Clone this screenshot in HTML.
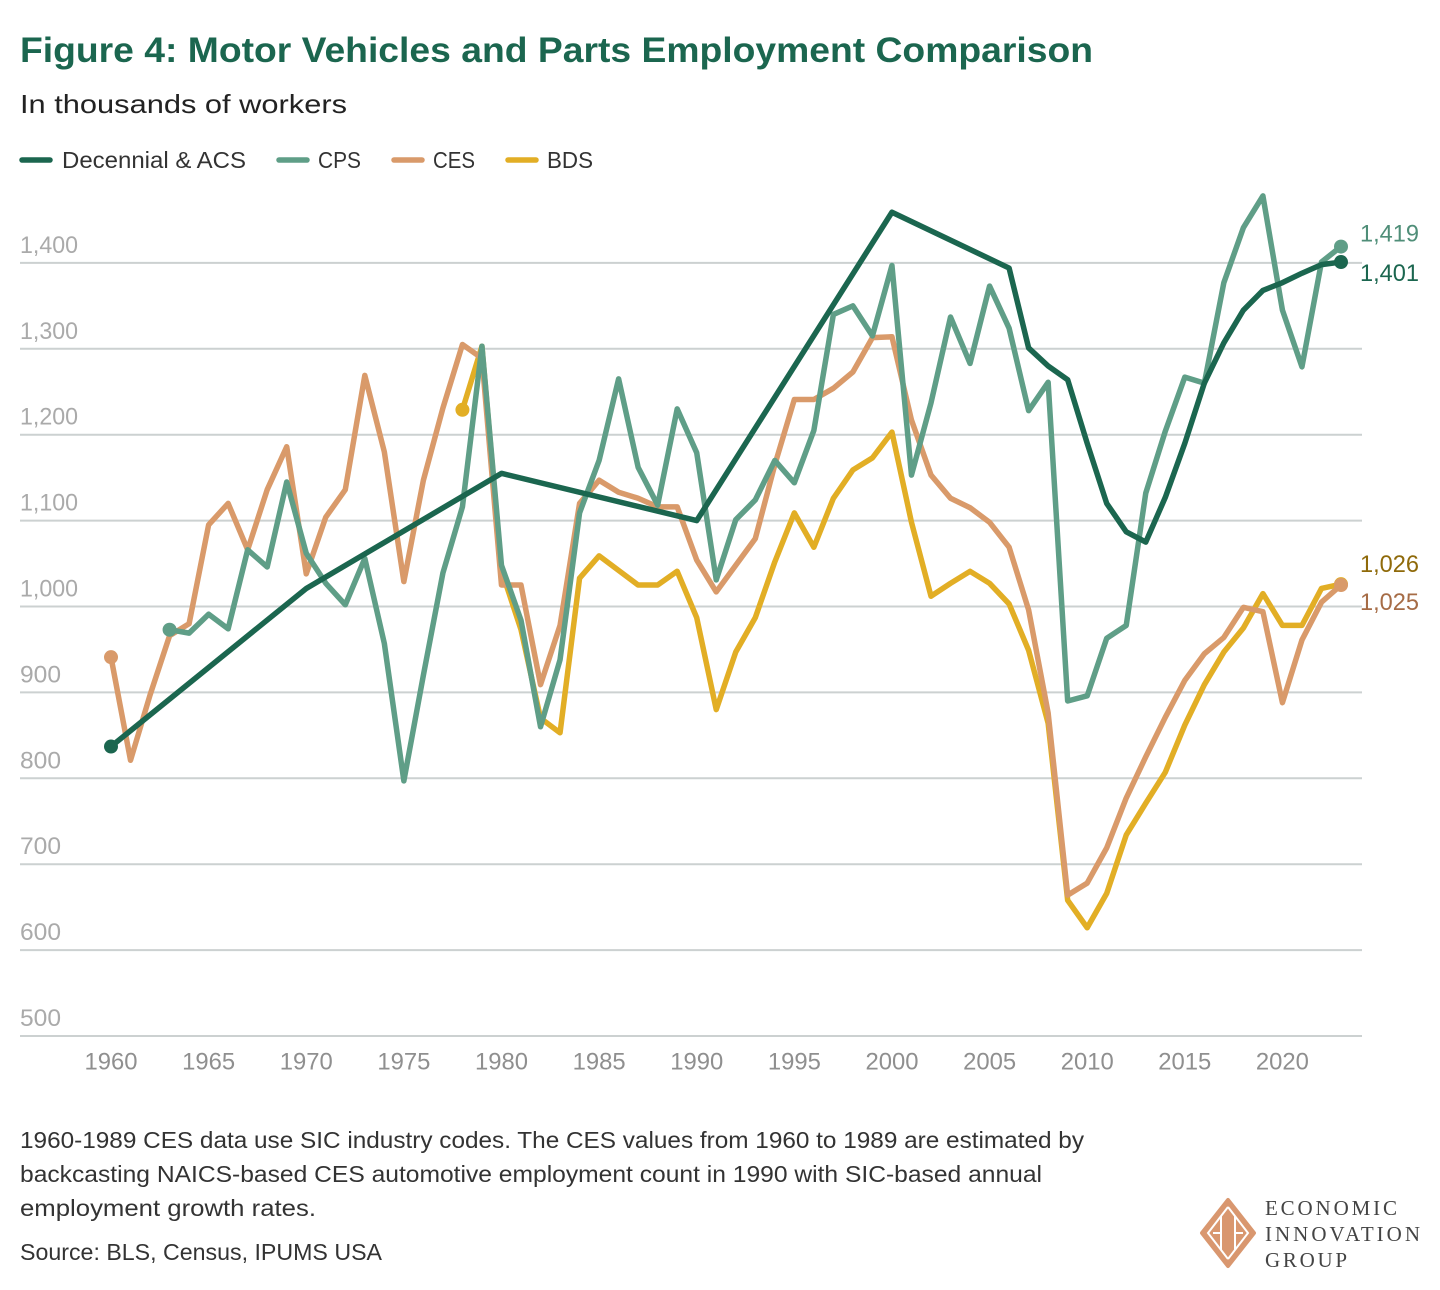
<!DOCTYPE html>
<html lang="en">
<head>
<meta charset="utf-8">
<title>Motor Vehicles and Parts Employment Comparison</title>
<style>
html,body{margin:0;padding:0;background:#fff;}
body{width:1440px;height:1290px;overflow:hidden;}
svg{display:block;font-family:"Liberation Sans",sans-serif;}
</style>
</head>
<body>
<svg id="chart" xmlns="http://www.w3.org/2000/svg" width="1440" height="1290" viewBox="0 0 1440 1290">
  <text x="20" y="62" font-size="35" font-weight="700" fill="#1b664f" textLength="1073" lengthAdjust="spacingAndGlyphs">Figure 4: Motor Vehicles and Parts Employment Comparison</text>
  <text x="20" y="113" font-size="26" fill="#222" textLength="327" lengthAdjust="spacingAndGlyphs">In thousands of workers</text>

  <g>
    <g>
      <line x1="22" y1="160" x2="50" y2="160" stroke="#1b664f" stroke-width="5.5" stroke-linecap="round"/>
      <text x="62" y="168" font-size="23" fill="#333" textLength="184" lengthAdjust="spacingAndGlyphs">Decennial &amp; ACS</text>
    </g>
    <g>
      <line x1="279" y1="160" x2="307" y2="160" stroke="#5f9e87" stroke-width="5.5" stroke-linecap="round"/>
      <text x="318" y="168" font-size="23" fill="#333" textLength="43" lengthAdjust="spacingAndGlyphs">CPS</text>
    </g>
    <g>
      <line x1="394" y1="160" x2="422" y2="160" stroke="#d99a6a" stroke-width="5.5" stroke-linecap="round"/>
      <text x="433" y="168" font-size="23" fill="#333" textLength="42" lengthAdjust="spacingAndGlyphs">CES</text>
    </g>
    <g>
      <line x1="508" y1="160" x2="536" y2="160" stroke="#e2ae25" stroke-width="5.5" stroke-linecap="round"/>
      <text x="547" y="168" font-size="23" fill="#333" textLength="46" lengthAdjust="spacingAndGlyphs">BDS</text>
    </g>
  </g>

  <g id="grid"></g>
  <g id="ylabels"></g>
  <g id="xlabels"></g>
  <g id="series"></g>
  <g id="endlabels"></g>

  <g font-size="23" fill="#333">
    <text x="20" y="1148" textLength="1064" lengthAdjust="spacingAndGlyphs">1960-1989 CES data use SIC industry codes. The CES values from 1960 to 1989 are estimated by</text>
    <text x="20" y="1182" textLength="1022" lengthAdjust="spacingAndGlyphs">backcasting NAICS-based CES automotive employment count in 1990 with SIC-based annual</text>
    <text x="20" y="1216" textLength="296" lengthAdjust="spacingAndGlyphs">employment growth rates.</text>
    <text x="20" y="1260" textLength="362" lengthAdjust="spacingAndGlyphs">Source: BLS, Census, IPUMS USA</text>
  </g>

  <g>
    <path d="M1228 1200 L1254 1233 L1228 1266 L1202 1233 Z" fill="#d9976f" stroke="#d9976f" stroke-width="4" stroke-linejoin="round"/>
    <path d="M1228 1207 L1208 1233 L1228 1259 M1228 1207 L1248 1233 L1228 1259 M1221 1216 L1221 1250 M1235 1216 L1235 1250 M1213 1233 L1221 1233 M1235 1233 L1243 1233" fill="none" stroke="#fff" stroke-width="2"/>
    <text x="1265" y="1215" font-family="'Liberation Serif',serif" font-size="21" fill="#444" textLength="132" lengthAdjust="spacing">ECONOMIC</text>
    <text x="1265" y="1241" font-family="'Liberation Serif',serif" font-size="21" fill="#444" textLength="155" lengthAdjust="spacing">INNOVATION</text>
    <text x="1265" y="1267" font-family="'Liberation Serif',serif" font-size="21" fill="#444" textLength="82" lengthAdjust="spacing">GROUP</text>
  </g>
</svg>
<script>
const yTicks = [500,600,700,800,900,1000,1100,1200,1300,1400];
const yTickLabels = ["500","600","700","800","900","1,000","1,100","1,200","1,300","1,400"];
const xTicks = [1960,1965,1970,1975,1980,1985,1990,1995,2000,2005,2010,2015,2020];

const decennialYears = [1960,1970,1980,1990,2000,2006,2007,2008,2009,2010,2011,2012,2013,2014,2015,2016,2017,2018,2019,2020,2021,2022,2023];
const decennialValues = [837,1021,1155,1100,1459,1394,1301,1280,1264,1190,1120,1087,1075,1127,1190,1260,1307,1345,1368,1377,1388,1398,1401];

const cpsStart = 1963;
const cpsValues = [973,969,991,974,1066,1046,1145,1062,1027,1002,1056,957,797,920,1039,1116,1303,1048,984,860,938,1109,1170,1265,1162,1118,1230,1179,1031,1101,1124,1170,1144,1205,1340,1350,1315,1397,1153,1237,1337,1283,1373,1324,1228,1261,890,896,963,978,1132,1204,1267,1260,1377,1441,1478,1345,1279,1401,1419];

const cesStart = 1960;
const cesValues = [941,821,897,966,980,1095,1120,1066,1136,1186,1038,1104,1136,1269,1180,1029,1147,1231,1305,1289,1025,1025,909,978,1120,1147,1133,1126,1116,1116,1054,1017,1048,1079,1165,1241,1241,1254,1273,1313,1314,1217,1153,1126,1115,1098,1069,996,876,664,678,719,777,825,871,914,945,964,999,994,888,961,1005,1025];

const bdsStart = 1978;
const bdsValues = [1229,1303,1042,973,870,853,1033,1059,1042,1025,1025,1041,987,880,947,987,1052,1109,1069,1126,1159,1173,1203,1098,1012,1027,1041,1027,1003,949,864,658,626,666,734,771,807,862,909,947,975,1015,978,978,1021,1026];

const endLabelText = ["1,419","1,401","1,026","1,025"];
const endLabelValues = [1419,1401,1026,1025];

const NS = "http://www.w3.org/2000/svg";
function x(year){ return 111 + (year - 1960) * (1230 / 63); }
function y(value){ return 1036 - (value - 500) * 0.859; }
function el(tag, parent, attrs, text){
  const n = document.createElementNS(NS, tag);
  for (const k in attrs) n.setAttribute(k, attrs[k]);
  if (text !== undefined) n.textContent = text;
  parent.appendChild(n);
  return n;
}
const gridG = document.getElementById('grid');
const yG = document.getElementById('ylabels');
const xG = document.getElementById('xlabels');
const sG = document.getElementById('series');
const eG = document.getElementById('endlabels');

yTicks.forEach(function(v, i){
  const g = el('line', gridG, {x1:20, x2:1362, y1:y(v), y2:y(v), stroke:'#ccd1d1', 'stroke-width':2});
  
  
  const label = yTickLabels[i];
  const t = el('text', yG, {x:20, y:y(v)-10, 'font-size':24, fill:'#aaaaaa', textLength: label.length > 3 ? 58 : 41, lengthAdjust:'spacingAndGlyphs'}, label);
  
  
});
xTicks.forEach(function(yr){
  const t = el('text', xG, {x:x(yr)-26.5, y:1069.5, 'font-size':24, fill:'#8f8f8f', textLength:53, lengthAdjust:'spacingAndGlyphs'}, String(yr));
  
  
});

function drawSeries(name, years, values, color){
  const pts = values.map(function(v, i){ return x(years[i]) + ',' + y(v); }).join(' ');
  const line = el('polyline', sG, {points:pts, fill:'none', stroke:color, 'stroke-width':5.5, 'stroke-linejoin':'round', 'stroke-linecap':'round'});
  
  
  const first = el('circle', sG, {cx:x(years[0]), cy:y(values[0]), r:7, fill:color});
  
  
  const last = el('circle', sG, {cx:x(years[years.length-1]), cy:y(values[values.length-1]), r:7, fill:color});
  
  
}
const bdsYears = bdsValues.map(function(_, i){ return bdsStart + i; });
const cesYears = cesValues.map(function(_, i){ return cesStart + i; });
const cpsYears = cpsValues.map(function(_, i){ return cpsStart + i; });
drawSeries('bds', bdsYears, bdsValues, '#e2ae25');
drawSeries('ces', cesYears, cesValues, '#d99a6a');
drawSeries('cps', cpsYears, cpsValues, '#5f9e87');
drawSeries('decennial-acs', decennialYears, decennialValues, '#1b664f');

const endColors = ['#4f8e78','#1b664f','#8f6a0a','#a66c46'];
const endOffsets = [-5, 19, -12, 25];
endLabelText.forEach(function(txt, i){
  const t = el('text', eG, {x:1360, y:y(endLabelValues[i]) + endOffsets[i], 'font-size':24, fill:endColors[i], textLength:59, lengthAdjust:'spacingAndGlyphs'}, txt);
  
  
});
</script>
</body>
</html>
